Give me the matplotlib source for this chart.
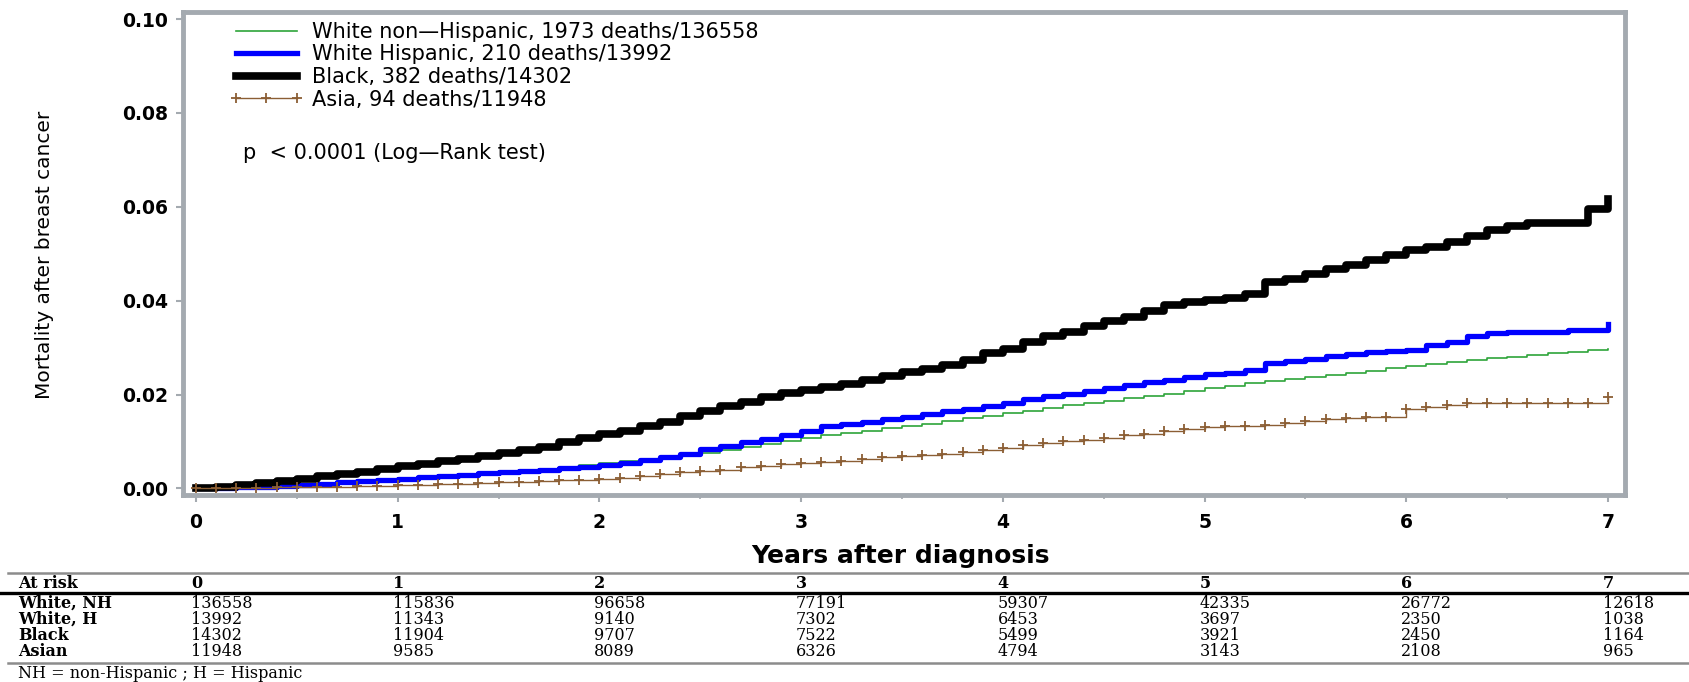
import numpy as np
import matplotlib
matplotlib.use('Agg')
import matplotlib.pyplot as plt
import matplotlib.transforms as mtransforms
from matplotlib.lines import Line2D
from matplotlib.ticker import MultipleLocator

# Time grid (years after diagnosis), curves every 0.1 year
t = np.round(np.arange(0, 7.01, 0.1), 1)

white_nh = [0.0000, 0.0001, 0.0002, 0.0003, 0.0004, 0.0006, 0.0008, 0.0011, 0.0014, 0.0017,
            0.0020, 0.0023, 0.0026, 0.0029, 0.0032, 0.0035, 0.0038, 0.0042, 0.0046, 0.0050,
            0.0054, 0.0058, 0.0062, 0.0066, 0.0071, 0.0076, 0.0082, 0.0088, 0.0094, 0.0100,
            0.0107, 0.0113, 0.0118, 0.0123, 0.0128, 0.0133, 0.0138, 0.0143, 0.0149, 0.0154,
            0.0160, 0.0166, 0.0171, 0.0177, 0.0182, 0.0187, 0.0192, 0.0197, 0.0202, 0.0208,
            0.0214, 0.0219, 0.0224, 0.0229, 0.0233, 0.0238, 0.0242, 0.0246, 0.0251, 0.0256,
            0.0261, 0.0265, 0.0269, 0.0273, 0.0277, 0.0281, 0.0284, 0.0288, 0.0291, 0.0295,
            0.0298]

white_h = [0.0000, 0.0001, 0.0002, 0.0004, 0.0005, 0.0007, 0.0010, 0.0013, 0.0016, 0.0018,
           0.0021, 0.0024, 0.0026, 0.0029, 0.0032, 0.0035, 0.0037, 0.0040, 0.0043, 0.0046,
           0.0050, 0.0055, 0.0060, 0.0066, 0.0074, 0.0083, 0.0090, 0.0098, 0.0106, 0.0113,
           0.0122, 0.0132, 0.0138, 0.0142, 0.0147, 0.0152, 0.0158, 0.0164, 0.0170, 0.0176,
           0.0183, 0.0191, 0.0197, 0.0202, 0.0208, 0.0215, 0.0221, 0.0226, 0.0232, 0.0238,
           0.0243, 0.0246, 0.0252, 0.0268, 0.0272, 0.0276, 0.0282, 0.0287, 0.0290, 0.0292,
           0.0295, 0.0305, 0.0312, 0.0325, 0.0331, 0.0333, 0.0333, 0.0333, 0.0337, 0.0337,
           0.0350]

black = [0.0000, 0.0004, 0.0008, 0.0012, 0.0015, 0.0020, 0.0026, 0.0031, 0.0036, 0.0042,
         0.0048, 0.0053, 0.0058, 0.0063, 0.0069, 0.0075, 0.0081, 0.0088, 0.0098, 0.0107,
         0.0115, 0.0122, 0.0132, 0.0141, 0.0154, 0.0165, 0.0175, 0.0184, 0.0194, 0.0203,
         0.0210, 0.0216, 0.0223, 0.0231, 0.0239, 0.0247, 0.0255, 0.0263, 0.0274, 0.0289,
         0.0297, 0.0312, 0.0324, 0.0334, 0.0347, 0.0357, 0.0366, 0.0378, 0.0390, 0.0397,
         0.0402, 0.0405, 0.0414, 0.0439, 0.0447, 0.0456, 0.0467, 0.0477, 0.0487, 0.0497,
         0.0508, 0.0515, 0.0525, 0.0538, 0.0550, 0.0559, 0.0565, 0.0566, 0.0566, 0.0596,
         0.0617]

asian = [0.0000, 0.0000, 0.0001, 0.0001, 0.0002, 0.0002, 0.0003, 0.0004, 0.0005, 0.0006,
         0.0007, 0.0008, 0.0009, 0.0010, 0.0012, 0.0013, 0.0014, 0.0015, 0.0017, 0.0019,
         0.0021, 0.0023, 0.0027, 0.0031, 0.0036, 0.0038, 0.0040, 0.0045, 0.0048, 0.0051,
         0.0054, 0.0056, 0.0059, 0.0062, 0.0066, 0.0069, 0.0071, 0.0074, 0.0077, 0.0081,
         0.0087, 0.0092, 0.0096, 0.0100, 0.0104, 0.0108, 0.0113, 0.0117, 0.0122, 0.0127,
         0.0130, 0.0132, 0.0134, 0.0136, 0.0139, 0.0143, 0.0147, 0.0150, 0.0152, 0.0152,
         0.0170, 0.0174, 0.0178, 0.0181, 0.0182, 0.0182, 0.0182, 0.0182, 0.0182, 0.0182,
         0.0194]

labels = ['White non\u2014Hispanic, 1973 deaths/136558',
          'White Hispanic, 210 deaths/13992',
          'Black, 382 deaths/14302',
          'Asia, 94 deaths/11948']

# number at risk table
risk_years = [0, 1, 2, 3, 4, 5, 6, 7]
risk_groups = ['White, NH', 'White, H', 'Black', 'Asian']
risk_white_nh = [136558, 115836, 96658, 77191, 59307, 42335, 26772, 12618]
risk_white_h = [13992, 11343, 9140, 7302, 6453, 3697, 2350, 1038]
risk_black = [14302, 11904, 9707, 7522, 5499, 3921, 2450, 1164]
risk_asian = [11948, 9585, 8089, 6326, 4794, 3143, 2108, 965]

yticks = [0.00, 0.02, 0.04, 0.06, 0.08, 0.10]

gray = '#a4aab0'
W, H = 1690, 682

fig = plt.figure(figsize=(16.9, 6.82), dpi=100)
ax = fig.add_axes([183 / W, 1 - 495 / H, (1625 - 183) / W, (495 - 12) / H])

ax.plot(t, white_nh, color='#2ea43a', lw=1.2, drawstyle='steps-post', label=labels[0])
ax.plot(t, white_h, color='#0000ff', lw=3.8, drawstyle='steps-post', label=labels[1])
ax.plot(t, black, color='black', lw=5.5, drawstyle='steps-post', label=labels[2])
ax.plot(t, asian, color='#8b5e34', lw=1.0, drawstyle='steps-post', marker='+',
        ms=7, mew=1.3, label=labels[3])

ax.set_xlim(-0.064, 7.084)
ax.set_ylim(-0.0014, 0.1015)
ax.set_xticks(risk_years)
ax.xaxis.set_minor_locator(MultipleLocator(0.5))
ax.set_yticks(yticks)
ax.set_yticklabels(['%.2f' % v for v in yticks])

for s in ax.spines.values():
    s.set_color(gray)
    s.set_linewidth(3.5)
ax.tick_params(axis='x', which='major', direction='out', color=gray, length=5, width=1.5,
               labelsize=13.5, pad=8)
ax.tick_params(axis='x', which='minor', direction='out', color=gray, length=3, width=1.2)
ax.tick_params(axis='y', direction='out', color=gray, length=5, width=1.5, labelsize=13.5, pad=6)
for lab in ax.get_xticklabels() + ax.get_yticklabels():
    lab.set_fontweight('bold')

leg = ax.legend(loc='upper left', bbox_to_anchor=(230 / W, 1 - 22 / H),
                bbox_transform=fig.transFigure, frameon=False, fontsize=15,
                handlelength=3.5, handletextpad=0.45, labelspacing=0.12,
                borderpad=0, borderaxespad=0, numpoints=3)

fig.text(243 / W, 1 - 153 / H, 'p  < 0.0001 (Log\u2014Rank test)', fontsize=15,
         ha='left', va='center')

fig.text(45 / W, 1 - 255 / H, 'Mortality after breast cancer', rotation=90,
         ha='center', va='center', fontsize=14.5)
fig.text(900 / W, 1 - 556 / H, 'Years after diagnosis', ha='center', va='center',
         fontsize=18, fontweight='bold')

# table of numbers at risk
fig.add_artist(Line2D([8 / W, 1], [1 - 573 / H] * 2, transform=fig.transFigure,
                      color='#8c8c8c', lw=1.8))
fig.add_artist(Line2D([0, 1], [1 - 593 / H] * 2, transform=fig.transFigure,
                      color='black', lw=2.4))
fig.add_artist(Line2D([8 / W, 1], [1 - 663 / H] * 2, transform=fig.transFigure,
                      color='#8c8c8c', lw=1.8))

trans = mtransforms.blended_transform_factory(ax.transData, fig.transFigure)
tfont = dict(family='DejaVu Serif', fontsize=11.5, va='center', ha='left')
row_y = [603, 619, 635, 651]

fig.text(18 / W, 1 - 583 / H, 'At risk', fontweight='bold', **tfont)
for yr in risk_years:
    ax.text(yr - 0.025, 1 - 583 / H, str(yr), transform=trans, fontweight='bold',
            clip_on=False, **tfont)

rows = [risk_white_nh, risk_white_h, risk_black, risk_asian]
for name, vals, y in zip(risk_groups, rows, row_y):
    fig.text(18 / W, 1 - y / H, name, fontweight='bold', **tfont)
    for yr, n in zip(risk_years, vals):
        ax.text(yr - 0.025, 1 - y / H, str(n), transform=trans, clip_on=False, **tfont)

fig.text(18 / W, 1 - 673 / H, 'NH = non-Hispanic ; H = Hispanic', **tfont)

fig.savefig('out.png', dpi=100)
